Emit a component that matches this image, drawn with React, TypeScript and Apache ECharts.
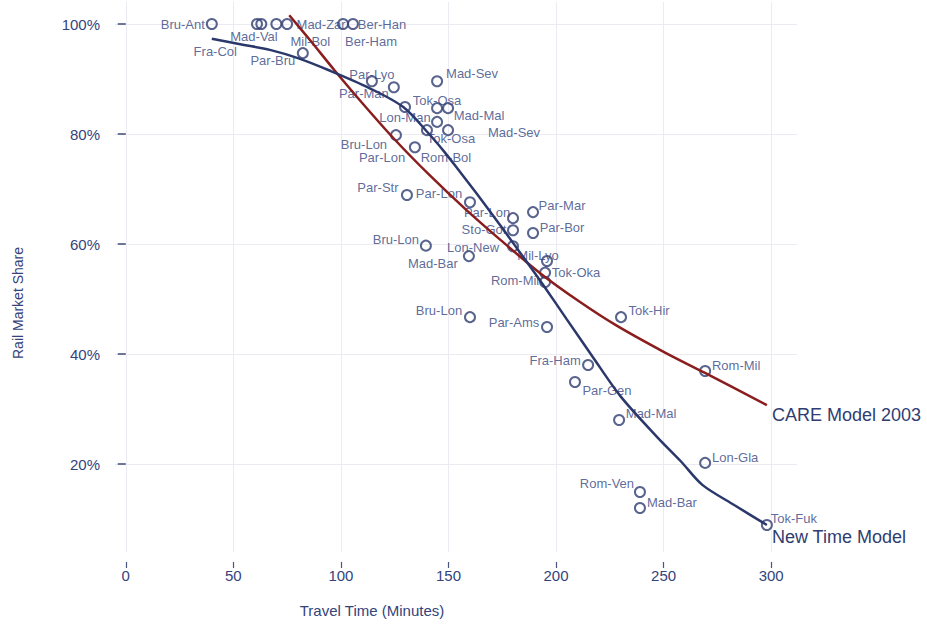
import React, { useEffect, useRef } from 'react';
import * as echarts from 'echarts';

// ---- data ----
const cityPairs = [
  'Bru-Ant', 'Mad-Val', 'Fra-Col', 'Mil-Bol', 'Mad-Zar', 'Ber-Ham', 'Ber-Han', 'Par-Bru',
  'Par-Lyo', 'Par-Man', 'Mad-Sev', 'Lon-Man', 'Tok-Osa', 'Mad-Mal', 'Par-Lon', 'Tok-Osa',
  'Mad-Sev', 'Bru-Lon', 'Rom-Bol', 'Par-Str', 'Par-Lon', 'Par-Mar', 'Par-Lon', 'Sto-Got',
  'Par-Bor', 'Bru-Lon', 'Lon-New', 'Mad-Bar', 'Mil-Lyo', 'Tok-Oka', 'Rom-Mil', 'Bru-Lon',
  'Par-Ams', 'Tok-Hir', 'Fra-Ham', 'Rom-Mil', 'Par-Gen', 'Mad-Mal', 'Lon-Gla', 'Rom-Ven',
  'Mad-Bar', 'Tok-Fuk',
];
const travelMinutes = [
  40, 61, 63, 70, 75, 101, 105.6, 82.3,
  114.4, 124.6, 144.7, 129.8, 144.7, 149.8, 144.7, 140,
  149.8, 125.6, 134.4, 130.7, 160, 189.3, 180, 180,
  189.3, 139.5, 180, 159.5, 195.8, 194.9, 194.9, 160,
  195.8, 230.2, 214.9, 269.3, 208.8, 229.3, 269.3, 239,
  239, 298,
];
const railShare = [
  100, 100, 100, 100, 100, 100, 100, 94.7,
  89.6, 88.5, 89.6, 84.9, 84.7, 84.7, 82.2, 80.7,
  80.7, 79.8, 77.6, 68.9, 67.6, 65.8, 64.7, 62.5,
  62, 59.7, 59.6, 57.8, 56.9, 54.8, 53.1, 46.7,
  44.9, 46.7, 38, 36.9, 34.9, 28, 20.2, 14.9,
  12, 8.9,
];

// label placement (style only, pixels relative to each circle)
const labelOffsets = [
  [-29, 0], [-3, 12], [-46, 27], [34, 17], [34, 0], [28, 17], [29, 0], [-30, 7],
  [0, -7], [-30, 6], [35, -8], [0, 10], [0, -8], [31, 7], [-55, 36], [24, 8],
  [66, 2], [-32, 9], [31, 10], [-29, -8], [-31, -9], [29, -7], [-26, -6], [-29, -1],
  [29, -6], [-30, -6], [-40, 1], [-36, 7], [-9, -6], [31, 0], [-30, -1], [-31, -7],
  [-33, -5], [28, -7], [-33, -5], [31, -6], [32, 8], [32, -7], [30, -5], [-33, -9],
  [32, -6], [27, -7],
];

const newModelMinutes = [40, 55, 67, 80, 95, 113, 129, 141, 148, 155, 165, 175, 185, 195, 205, 217, 230, 247, 258, 268, 283, 298];
const newModelShare = [97.3, 96.2, 95.3, 93.8, 91.5, 88.4, 84.9, 80.0, 76.8, 73.3, 68.2, 62.9, 57.5, 52, 46.3, 39.5, 32.3, 24.9, 20.5, 16.2, 12.5, 8.9];

const careModelMinutes = [76, 86, 97, 110, 125, 141, 158, 174, 192.6, 211, 228, 250, 269, 298];
const careModelShare = [101.6, 96.9, 91.6, 85.6, 79.0, 72.6, 66.3, 60.8, 54.7, 49.5, 45.2, 40.4, 36.6, 30.7];

const xTickValues = [0, 50, 100, 150, 200, 250, 300];
const yTickValues = [20, 40, 60, 80, 100];

const NAVY = '#2f3d72';
const TEXT = '#34437a';
const FONT = '"Liberation Sans", Arial, sans-serif';

export default function App() {
  const ref = useRef<HTMLDivElement>(null);

  useEffect(() => {
    if (!ref.current) return;
    const chart = echarts.init(ref.current, undefined, { renderer: 'svg' });

    const points = cityPairs.map((name, i) => ({
      name,
      value: [travelMinutes[i], railShare[i]],
      label: { offset: labelOffsets[i] },
    }));

    const option = {
      animation: false,
      backgroundColor: '#ffffff',
      textStyle: { fontFamily: FONT },
      grid: { left: 115, right: 130, top: 2, bottom: 74 },
      xAxis: {
        type: 'value',
        min: -5,
        max: 312,
        offset: 10,
        axisLine: { show: false },
        axisTick: { show: true, length: 6, customValues: xTickValues, lineStyle: { color: '#4a5580', width: 1.2 } },
        axisLabel: { customValues: xTickValues, margin: 6, color: TEXT, fontSize: 15, fontFamily: FONT },
        splitLine: { show: true, lineStyle: { color: '#ebebf1', width: 1 } },
      },
      yAxis: {
        type: 'value',
        min: 4,
        max: 104,
        offset: 9,
        axisLine: { show: false },
        axisTick: { show: true, length: 8, customValues: yTickValues, lineStyle: { color: '#4a5580', width: 1.6 } },
        axisLabel: { customValues: yTickValues, formatter: '{value}%', margin: 6, color: TEXT, fontSize: 15, fontFamily: FONT },
        splitLine: { show: true, lineStyle: { color: '#ebebf1', width: 1 } },
      },
      series: [
        {
          type: 'scatter',
          name: 'City pairs',
          data: points,
          symbol: 'circle',
          symbolSize: 10,
          clip: false,
          itemStyle: { color: 'rgba(255,255,255,0)', borderColor: NAVY, borderWidth: 2 },
          label: {
            show: true,
            position: 'inside',
            formatter: '{b}',
            color: '#34457f',
            fontSize: 13,
            fontFamily: FONT,
          },
          emphasis: { disabled: true },
          z: 2,
        },
        {
          type: 'line',
          name: 'CARE Model 2003',
          data: careModelMinutes.map((m, i) => [m, careModelShare[i]]),
          showSymbol: false,
          smooth: 0.3,
          clip: false,
          lineStyle: { color: '#8a1d1d', width: 2.5 },
          endLabel: { show: true, formatter: '{a}', offset: [-3, 10], color: NAVY, fontSize: 18, fontFamily: FONT },
          z: 3,
        },
        {
          type: 'line',
          name: 'New Time Model',
          data: newModelMinutes.map((m, i) => [m, newModelShare[i]]),
          showSymbol: false,
          smooth: 0.3,
          clip: false,
          lineStyle: { color: '#2b386b', width: 2.5 },
          endLabel: { show: true, formatter: '{a}', offset: [-3, 12], color: NAVY, fontSize: 18, fontFamily: FONT },
          z: 3,
        },
      ],
      graphic: [
        {
          type: 'text',
          x: 18,
          y: 303,
          rotation: Math.PI / 2,
          style: { text: 'Rail Market Share', fill: TEXT, font: `14px ${FONT}`, align: 'center', verticalAlign: 'middle' },
        },
        {
          type: 'text',
          x: 372,
          y: 610,
          style: { text: 'Travel Time (Minutes)', fill: TEXT, font: `15px ${FONT}`, align: 'center', verticalAlign: 'middle' },
        },
      ],
    };

    chart.setOption(option as any);
    return () => chart.dispose();
  }, []);

  return <div ref={ref} style={{ position: 'fixed', left: 0, top: 0, width: 927, height: 626 }} />;
}
